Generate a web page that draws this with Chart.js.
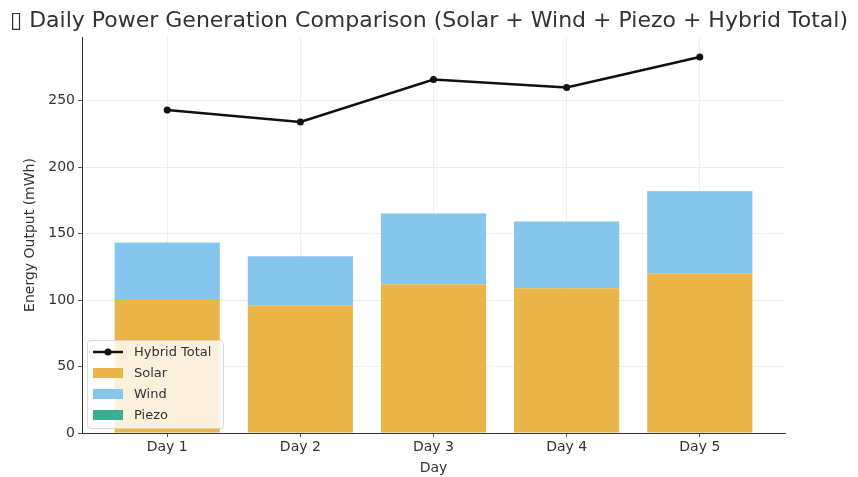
<!DOCTYPE html>
<html>
<head>
<meta charset="utf-8">
<script src="https://cdn.jsdelivr.net/npm/chart.js@4.4.1/dist/chart.umd.min.js"></script>
<style>
  html, body { margin: 0; padding: 0; background: #ffffff; }
  #wrap { width: 858px; height: 477px; }
</style>
</head>
<body>
<div id="wrap"><canvas id="c" width="858" height="477"></canvas></div>
<script>
const days = ["Day 1", "Day 2", "Day 3", "Day 4", "Day 5"];
const solar = [100, 96, 112, 109, 120];
const wind = [43, 37, 53, 50, 62];
const piezo = [0.1, 0.1, 0.1, 0.1, 0.1];
const hybridTotal = [243, 234, 266, 260, 283];
const yTicks = [0, 50, 100, 150, 200, 250];
const titleText = "\u25AF Daily Power Generation Comparison (Solar + Wind + Piezo + Hybrid Total)";

const toXY = arr => arr.map((v, i) => ({ x: i, y: v }));

const FONT = "'DejaVu Sans', sans-serif";

const insideLegend = {
  id: 'insideLegend',
  afterDatasetsDraw(chart) {
    const ctx = chart.ctx;
    const ca = chart.chartArea;
    const x0 = ca.left + 5, w = 136;
    const y0 = 340, h = 88;
    ctx.save();
    ctx.fillStyle = 'rgba(255,255,255,0.8)';
    ctx.strokeStyle = 'rgba(210,210,210,0.8)';
    ctx.lineWidth = 1;
    ctx.beginPath();
    ctx.roundRect(x0 + 0.5, y0 + 0.5, w, h, 3);
    ctx.fill();
    ctx.stroke();
    const order = [3, 0, 1, 2];
    ctx.font = "13px " + FONT;
    ctx.textBaseline = 'middle';
    order.forEach((di, k) => {
      const ds = chart.data.datasets[di];
      const cy = y0 + 12 + k * 21;
      if (ds.type === 'line') {
        ctx.strokeStyle = ds.borderColor;
        ctx.lineWidth = 2.5;
        ctx.beginPath();
        ctx.moveTo(x0 + 6, cy);
        ctx.lineTo(x0 + 36, cy);
        ctx.stroke();
        ctx.fillStyle = ds.borderColor;
        ctx.beginPath();
        ctx.arc(x0 + 21, cy, 3.5, 0, Math.PI * 2);
        ctx.fill();
      } else {
        ctx.fillStyle = ds.backgroundColor;
        ctx.fillRect(x0 + 6, cy - 5, 30, 10);
      }
      ctx.fillStyle = '#333';
      ctx.textAlign = 'left';
      ctx.fillText(ds.label, x0 + 47, cy + 1);
    });
    ctx.restore();
  }
};

new Chart(document.getElementById('c'), {
  type: 'bar',
  data: {
    datasets: [
      { label: 'Solar', data: toXY(solar), backgroundColor: '#EAB64A', stack: 'bars', order: 2 },
      { label: 'Wind', data: toXY(wind), backgroundColor: '#86C5EC', stack: 'bars', order: 2 },
      { label: 'Piezo', data: toXY(piezo), backgroundColor: '#3AAE92', stack: 'bars', order: 2 },
      { type: 'line', label: 'Hybrid Total', data: toXY(hybridTotal), stack: 'line',
        borderColor: '#111111', backgroundColor: '#111111', borderWidth: 2.5,
        pointRadius: 3.5, pointBackgroundColor: '#111111', pointBorderWidth: 0, order: 1 }
    ]
  },
  options: {
    responsive: false,
    animation: false,
    devicePixelRatio: 1,
    layout: { padding: { left: 0, right: 0, top: 0, bottom: 0 } },
    datasets: { bar: { categoryPercentage: 1, barPercentage: 0.79 } },
    plugins: {
      legend: { display: false },
      tooltip: { enabled: false },
      title: {
        display: true,
        text: titleText,
        color: '#333333',
        font: { family: FONT, size: 22, weight: 'normal', lineHeight: 1.2 },
        padding: { top: 8, bottom: 2.6 }
      }
    },
    scales: {
      x: {
        type: 'linear',
        stacked: true,
        offset: false,
        min: -0.64,
        max: 4.64,
        afterBuildTicks: s => { s.ticks = days.map((_, i) => ({ value: i })); },
        afterFit: s => { s.height = 44; },
        ticks: {
          callback: v => days[v],
          color: '#333',
          font: { family: FONT, size: 14 },
          padding: 2
        },
        grid: { offset: false, color: '#eeeeee', tickLength: 4, tickColor: '#555' },
        border: { color: '#333', width: 1 },
        title: { display: true, text: 'Day', color: '#333', font: { family: FONT, size: 14 }, padding: { top: 0, bottom: 0 } }
      },
      y: {
        stacked: true,
        min: 0,
        max: 298,
        afterBuildTicks: s => { s.ticks = yTicks.map(v => ({ value: v })); },
        afterFit: s => { s.width = 82; },
        ticks: {
          color: '#333',
          font: { family: FONT, size: 14 },
          padding: 3
        },
        grid: { color: '#eeeeee', tickLength: 4, tickColor: '#555' },
        border: { color: '#333', width: 1 },
        title: { display: true, text: 'Energy Output (mWh)', color: '#333', font: { family: FONT, size: 14 }, padding: { top: 22, bottom: 4 } }
      },
      yRight: {
        position: 'right',
        display: true,
        min: 0,
        max: 298,
        afterFit: s => { s.width = 73; },
        ticks: { display: false },
        grid: { display: false, drawTicks: false },
        border: { display: false }
      }
    }
  },
  plugins: [insideLegend]
});
</script>
</body>
</html>
